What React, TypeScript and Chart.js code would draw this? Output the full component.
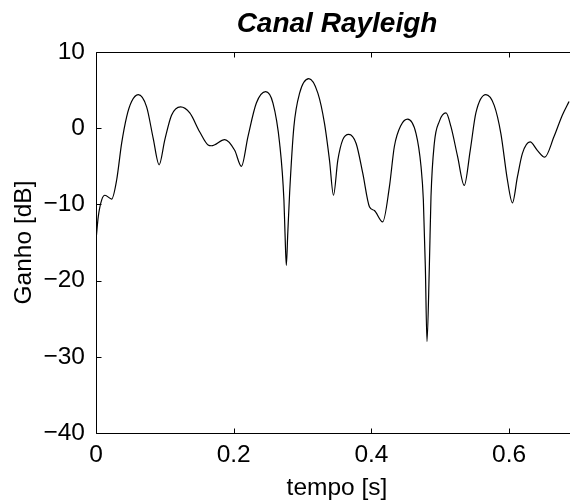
import React, { useEffect, useRef } from "react";
import { Chart, registerables } from "chart.js";

Chart.register(...registerables);

const TITLE = "Canal Rayleigh";
const X_LABEL = "tempo [s]";
const Y_LABEL = "Ganho [dB]";

const TIME = [
  0.0, 0.0033, 0.0083, 0.013, 0.0228, 0.03, 0.0372, 0.0445, 0.0517, 0.0613,
  0.0735, 0.083, 0.0917, 0.1, 0.1097, 0.1228, 0.1362, 0.1507, 0.1628, 0.1677,
  0.187, 0.2014, 0.2112, 0.2207, 0.2329, 0.2464, 0.257, 0.2667, 0.2729, 0.2745,
  0.2764, 0.2785, 0.2812, 0.2874, 0.2957, 0.3091, 0.3222, 0.3319, 0.3391, 0.3449,
  0.3512, 0.3584, 0.3671, 0.3778, 0.3874, 0.3971, 0.4043, 0.4164, 0.4261, 0.4333,
  0.443, 0.4526, 0.4648, 0.472, 0.4754, 0.4783, 0.4807, 0.4841, 0.4865, 0.4913,
  0.4986, 0.5083, 0.5155, 0.5251, 0.5348, 0.5435, 0.5517, 0.5662, 0.5783, 0.588,
  0.5975, 0.6048, 0.612, 0.6193, 0.6304, 0.6409, 0.6517, 0.6652, 0.6772, 0.687,
];

const GAIN_DB = [
  -14.7, -11.6, -9.4, -8.8, -9.3, -6.8, -2.0, 1.5, 3.5, 4.4,
  2.8, -1.3, -4.8, -1.5, 1.7, 2.8, 2.0, -0.5, -2.2, -2.3,
  -1.5, -2.9, -5.0, -1.1, 3.3, 4.8, 3.3, -2.0, -9.4, -13.8,
  -18.0, -13.8, -8.5, 0.2, 4.6, 6.5, 4.6, 0.6, -4.2, -8.8,
  -4.2, -1.5, -0.8, -2.0, -5.9, -10.3, -10.8, -12.3, -7.7, -2.4,
  0.4, 1.2, -0.7, -5.0, -9.4, -18.2, -28.0, -18.2, -9.0, -2.0,
  0.9, 2.0, 0.2, -3.7, -7.5, -2.9, 2.0, 4.4, 3.0, -0.7,
  -6.8, -9.8, -6.4, -3.3, -1.8, -2.9, -3.8, -1.1, 1.7, 3.5,
];

const X_TICKS = [0, 0.2, 0.4, 0.6];
const Y_TICKS = [-40, -30, -20, -10, 0, 10];
const X_MIN = 0;
const X_MAX = 0.7;
const Y_MIN = -40;
const Y_MAX = 10;

const FONT = "'Liberation Sans', Arial, Helvetica, sans-serif";

const fmt = (v: number) => (v < 0 ? "\u2212" + String(Math.abs(v)) : String(v));

const boxPlugin = {
  id: "matlabBox",
  afterDraw(chart: any) {
    const { ctx, chartArea: a, scales } = chart;
    ctx.save();
    ctx.strokeStyle = "#000";
    ctx.lineWidth = 1;
    const l = Math.round(a.left) + 0.5;
    const r = Math.round(a.right) + 0.5;
    const t = Math.round(a.top) + 0.5;
    const b = Math.round(a.bottom) + 0.5;
    ctx.beginPath();
    ctx.rect(l, t, r - l, b - t);
    const L = 5;
    for (const v of X_TICKS) {
      const px = Math.round(scales.x.getPixelForValue(v)) + 0.5;
      ctx.moveTo(px, b);
      ctx.lineTo(px, b - L);
      ctx.moveTo(px, t);
      ctx.lineTo(px, t + L);
    }
    for (const v of Y_TICKS) {
      const py = Math.round(scales.y.getPixelForValue(v)) + 0.5;
      ctx.moveTo(l, py);
      ctx.lineTo(l + L, py);
      ctx.moveTo(r, py);
      ctx.lineTo(r - L, py);
    }
    ctx.stroke();
    ctx.restore();
  },
};

export default function App() {
  const ref = useRef<HTMLCanvasElement | null>(null);

  useEffect(() => {
    const canvas = ref.current;
    if (!canvas) return;
    const chart = new Chart(canvas, {
      type: "line",
      data: {
        datasets: [
          {
            data: TIME.map((t, i) => ({ x: t, y: GAIN_DB[i] })),
            borderColor: "#000",
            borderWidth: 1.2,
            pointRadius: 0,
            cubicInterpolationMode: "monotone",
            fill: false,
          },
        ],
      },
      options: {
        responsive: false,
        animation: false,
        devicePixelRatio: 1,
        layout: { padding: { left: 0, right: 2, top: 0, bottom: 0 } },
        plugins: {
          legend: { display: false },
          tooltip: { enabled: false },
          title: {
            display: true,
            text: TITLE,
            fullSize: false,
            color: "#000",
            font: { family: FONT, size: 28, weight: "bold", style: "italic", lineHeight: 1.2 },
            padding: { top: 7.4, bottom: 11 },
          },
        },
        scales: {
          x: {
            type: "linear",
            min: X_MIN,
            max: X_MAX,
            afterBuildTicks: (s: any) => {
              s.ticks = X_TICKS.map((v) => ({ value: v }));
            },
            afterFit: (s: any) => {
              s.height = 67;
            },
            grid: { display: false, drawTicks: false },
            border: { display: false },
            ticks: {
              color: "#000",
              font: { family: FONT, size: 24.5 },
              padding: 8,
              maxRotation: 0,
              autoSkip: false,
              callback: (v: any) => fmt(Number(v)),
            },
            title: {
              display: true,
              text: X_LABEL,
              color: "#000",
              font: { family: FONT, size: 24.5, lineHeight: 1 },
              padding: { top: 0, bottom: 0 },
            },
          },
          y: {
            type: "linear",
            min: Y_MIN,
            max: Y_MAX,
            afterBuildTicks: (s: any) => {
              s.ticks = Y_TICKS.map((v) => ({ value: v }));
            },
            afterFit: (s: any) => {
              s.width = 96;
            },
            grid: { display: false, drawTicks: false },
            border: { display: false },
            ticks: {
              color: "#000",
              font: { family: FONT, size: 24.5 },
              padding: 11,
              autoSkip: false,
              callback: (v: any) => fmt(Number(v)),
            },
            title: {
              display: true,
              text: Y_LABEL,
              color: "#000",
              font: { family: FONT, size: 24.5, lineHeight: 1.2 },
              padding: { top: 9.3, bottom: 0 },
            },
          },
        },
      },
      plugins: [boxPlugin],
    } as any);
    return () => chart.destroy();
  }, []);

  return (
    <div
      style={{
        position: "absolute",
        left: 0,
        top: 0,
        width: 570,
        height: 500,
        overflow: "hidden",
        background: "#fff",
      }}
    >
      <canvas ref={ref} width={580} height={500} style={{ width: 580, height: 500, display: "block" }} />
    </div>
  );
}
